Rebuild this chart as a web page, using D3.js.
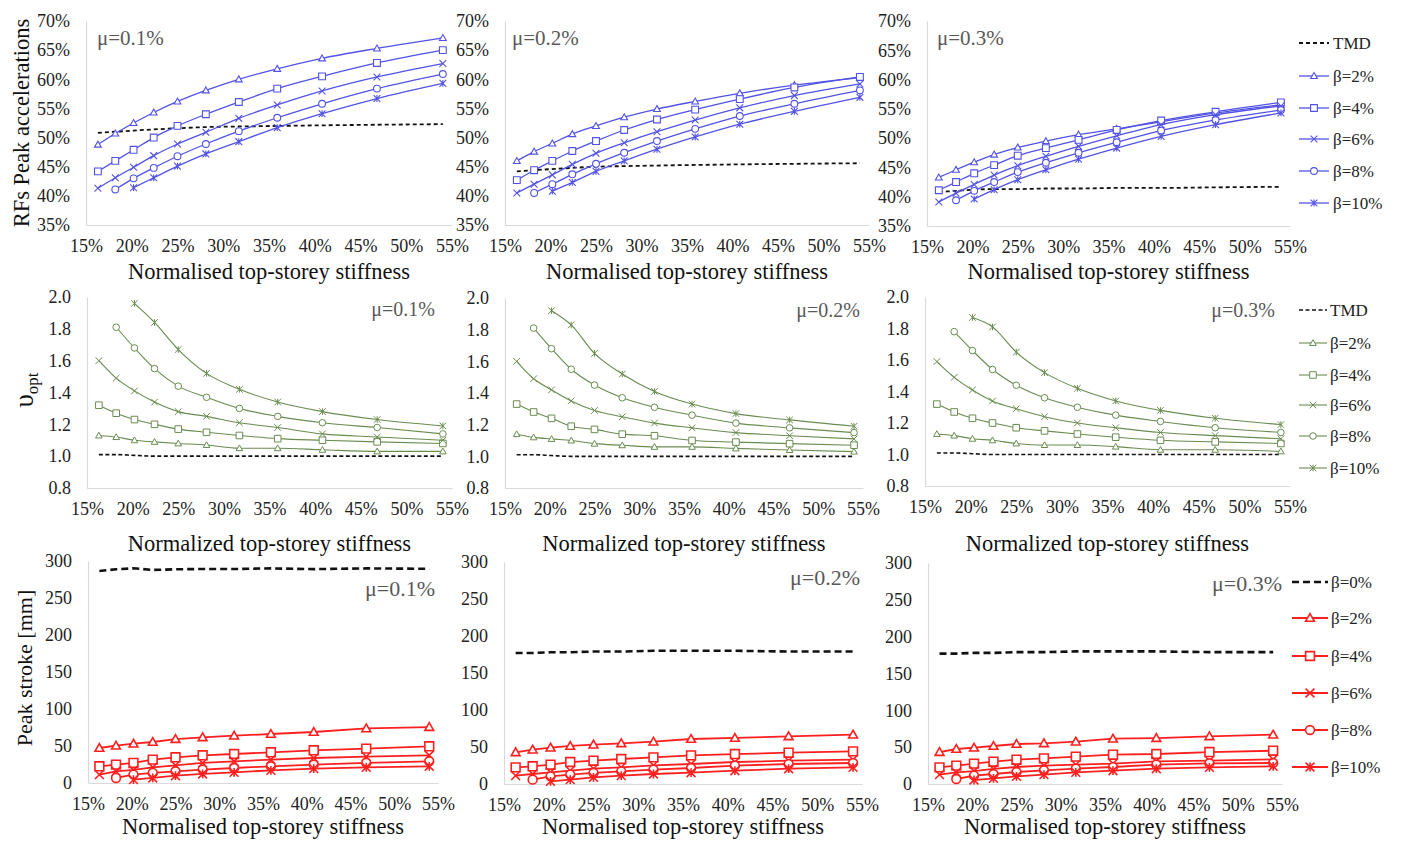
<!DOCTYPE html>
<html>
<head>
<meta charset="utf-8">
<script src="https://cdn.jsdelivr.net/npm/d3@7"></script>
<style>
  body { margin: 0; background: #fff; }
  svg { font-family: "Liberation Serif", "Times New Roman", serif; }
</style>
</head>
<body>
<div class="graph"></div>
<script>
// normalised top-storey stiffness [%] for every point
const stiffness = [16.3, 18.2, 20.2, 22.4, 25.0, 28.1, 31.7, 35.9, 40.8, 46.8, 54.0];
const xTicks = [15, 20, 25, 30, 35, 40, 45, 50, 55];
const muLabels = ['μ=0.1%', 'μ=0.2%', 'μ=0.3%'];
const betaLabels = ['β=2%', 'β=4%', 'β=6%', 'β=8%', 'β=10%'];

// row 1 : RFs peak accelerations [%]
const accTicks = [35, 40, 45, 50, 55, 60, 65, 70];
const accTmd = [
  [50.8, 51.0, 51.2, 51.4, 51.6, 51.8, 51.9, 52.0, 52.1, 52.2, 52.3],
  [44.2, 44.4, 44.6, 44.8, 45.0, 45.1, 45.2, 45.3, 45.4, 45.5, 45.6],
  [40.8, 41.0, 41.2, 41.3, 41.3, 41.4, 41.4, 41.5, 41.5, 41.6, 41.7]
];
const accMu01 = [
  [48.8, 50.7, 52.5, 54.3, 56.2, 58.1, 60.0, 61.8, 63.6, 65.3, 67.1],
  [44.2, 46.0, 47.9, 50.0, 52.0, 54.0, 56.1, 58.4, 60.5, 62.8, 65.0],
  [41.3, 43.1, 44.9, 46.9, 48.9, 50.9, 53.3, 55.6, 58.0, 60.4, 62.7],
  [null, 41.1, 43.0, 44.8, 46.8, 48.9, 51.1, 53.4, 55.8, 58.4, 60.9],
  [null, null, 41.4, 43.1, 45.1, 47.2, 49.3, 51.7, 54.1, 56.7, 59.3]
];
const accMu02 = [
  [46.0, 47.6, 49.0, 50.6, 52.0, 53.5, 54.9, 56.2, 57.6, 59.0, 60.3],
  [42.7, 44.4, 46.0, 47.7, 49.4, 51.3, 53.1, 54.8, 56.6, 58.6, 60.4],
  [40.5, 42.0, 43.6, 45.4, 47.3, 49.1, 51.0, 53.0, 55.1, 57.2, 59.2],
  [null, 40.5, 42.0, 43.7, 45.5, 47.4, 49.4, 51.5, 53.7, 55.8, 58.1],
  [null, null, 40.8, 42.3, 44.2, 46.0, 48.0, 50.1, 52.3, 54.5, 56.9]
];
const accMu03 = [
  [43.3, 44.6, 45.9, 47.2, 48.4, 49.5, 50.6, 51.6, 52.8, 54.3, 55.7],
  [41.1, 42.5, 44.0, 45.4, 47.0, 48.3, 49.7, 51.4, 53.0, 54.5, 56.1],
  [39.1, 40.6, 42.1, 43.7, 45.3, 46.9, 48.6, 50.4, 52.3, 54.0, 55.5],
  [null, 39.4, 41.0, 42.5, 44.2, 45.8, 47.5, 49.3, 51.3, 53.1, 54.8],
  [null, null, 39.6, 41.2, 42.9, 44.6, 46.4, 48.3, 50.3, 52.3, 54.3]
];

// row 2 : optimal frequency ratio
const nuTicks = [0.8, 1.0, 1.2, 1.4, 1.6, 1.8, 2.0];
const nuTmd = [
  [1.01, 1.01, 1.005, 1.0, 1.0, 1.0, 1.0, 1.0, 1.0, 1.0, 1.0],
  [1.01, 1.01, 1.005, 1.0, 1.0, 1.0, 1.0, 1.0, 1.0, 1.0, 1.0],
  [1.01, 1.01, 1.005, 1.0, 1.0, 1.0, 1.0, 1.0, 1.0, 1.0, 1.0]
];
const nuMu01 = [
  [1.13, 1.12, 1.10, 1.09, 1.08, 1.07, 1.05, 1.05, 1.04, 1.03, 1.03],
  [1.32, 1.27, 1.23, 1.20, 1.17, 1.15, 1.13, 1.11, 1.10, 1.09, 1.08],
  [1.60, 1.49, 1.41, 1.34, 1.28, 1.25, 1.21, 1.18, 1.14, 1.12, 1.10],
  [null, 1.81, 1.68, 1.55, 1.44, 1.37, 1.30, 1.25, 1.21, 1.18, 1.14],
  [null, null, 1.96, 1.84, 1.67, 1.52, 1.42, 1.34, 1.28, 1.23, 1.19]
];
const nuMu02 = [
  [1.14, 1.12, 1.11, 1.10, 1.08, 1.07, 1.06, 1.06, 1.05, 1.04, 1.03],
  [1.33, 1.28, 1.24, 1.19, 1.17, 1.14, 1.13, 1.10, 1.09, 1.08, 1.07],
  [1.60, 1.49, 1.42, 1.35, 1.29, 1.25, 1.21, 1.18, 1.15, 1.13, 1.11],
  [null, 1.81, 1.68, 1.55, 1.45, 1.37, 1.31, 1.26, 1.21, 1.18, 1.15],
  [null, null, 1.92, 1.83, 1.65, 1.52, 1.41, 1.33, 1.27, 1.23, 1.19]
];
const nuMu03 = [
  [1.13, 1.12, 1.10, 1.09, 1.07, 1.06, 1.06, 1.05, 1.03, 1.03, 1.02],
  [1.32, 1.27, 1.23, 1.20, 1.17, 1.15, 1.13, 1.11, 1.09, 1.08, 1.07],
  [1.59, 1.49, 1.41, 1.34, 1.29, 1.24, 1.20, 1.17, 1.14, 1.12, 1.10],
  [null, 1.78, 1.66, 1.54, 1.44, 1.36, 1.30, 1.25, 1.21, 1.17, 1.14],
  [null, null, 1.87, 1.81, 1.65, 1.52, 1.42, 1.34, 1.28, 1.23, 1.19]
];

// row 3 : peak stroke [mm]
const strokeTicks = [0, 50, 100, 150, 200, 250, 300];
const strokeTmd = [
  [286.5, 288.8, 290.1, 287.9, 288.8, 289.2, 289.2, 290.0, 289.0, 290.0, 289.5],
  [177, 177, 178, 178, 179, 179, 180, 180, 180, 179, 179],
  [177, 177, 178, 178, 179, 179, 180, 180, 180, 179, 179]
];
const strokeMu01 = [
  [47.3, 50.4, 53.1, 55.4, 59.4, 61.7, 63.9, 66.2, 68.9, 73.8, 75.6],
  [22.6, 24.8, 27.1, 31.6, 34.7, 37.4, 39.2, 41.5, 44.2, 46.4, 49.6],
  [11.3, 15.8, 17.6, 21.2, 23.9, 27.1, 29.3, 31.6, 33.8, 35.6, 37.4],
  [null, 6.8, 11.3, 13.6, 15.8, 18.1, 20.3, 22.6, 24.8, 27.1, 29.3],
  [null, null, 4.6, 6.8, 9.9, 12.2, 14.4, 17.1, 19.4, 21.2, 22.6]
];
const strokeMu02 = [
  [42.8, 46.4, 49.1, 51.4, 53.2, 55.0, 57.2, 60.8, 62.2, 64.4, 66.7],
  [22.5, 23.9, 26.1, 29.7, 31.5, 33.8, 36.0, 38.7, 40.5, 42.3, 44.1],
  [11.3, 13.5, 15.8, 18.0, 20.7, 22.5, 25.2, 27.0, 29.7, 31.5, 32.9],
  [null, 5.9, 10.4, 12.6, 14.9, 17.1, 19.4, 21.6, 24.8, 27.0, 28.4],
  [null, null, 3.6, 5.9, 9.0, 11.3, 13.5, 15.3, 18.0, 20.7, 22.5]
];
const strokeMu03 = [
  [43.4, 47.5, 49.3, 51.6, 54.3, 55.2, 57.5, 61.5, 62.4, 64.7, 67.0],
  [22.6, 24.9, 27.6, 30.3, 33.0, 34.8, 37.1, 39.8, 40.7, 43.4, 45.2],
  [12.7, 15.8, 17.6, 20.4, 23.1, 24.9, 26.2, 27.6, 30.8, 31.7, 33.5],
  [null, 6.8, 11.3, 13.6, 16.3, 18.6, 20.8, 23.1, 26.2, 28.1, 28.5],
  [null, null, 5.4, 7.7, 10.4, 12.7, 15.8, 18.1, 20.8, 22.6, 24.0]
];

const W = 1406, H = 841;
const svg = d3.select('.graph').append('svg').attr('width', W).attr('height', H);

const symbols = ['triangle', 'square', 'cross', 'circle', 'star'];

const drawMarker = (g, type, cx, cy, s, color, sw) => {
  let d;
  if (type === 'triangle') d = `M${cx},${cy - s}L${cx + s},${cy + s * 0.75}L${cx - s},${cy + s * 0.75}Z`;
  else if (type === 'square') d = `M${cx - s},${cy - s}h${2 * s}v${2 * s}h${-2 * s}Z`;
  else if (type === 'cross') d = `M${cx - s},${cy - s}L${cx + s},${cy + s}M${cx - s},${cy + s}L${cx + s},${cy - s}`;
  else if (type === 'star') d = `M${cx - s},${cy - s}L${cx + s},${cy + s}M${cx - s},${cy + s}L${cx + s},${cy - s}M${cx},${cy - s}V${cy + s}`;
  if (type === 'circle') {
    g.append('circle').attr('cx', cx).attr('cy', cy).attr('r', s)
      .attr('fill', '#fff').attr('stroke', color).attr('stroke-width', sw);
  } else {
    g.append('path').attr('d', d)
      .attr('fill', (type === 'triangle' || type === 'square') ? '#fff' : 'none')
      .attr('stroke', color).attr('stroke-width', sw);
  }
};

const rows = [
  {
    data: [accMu01, accMu02, accMu03], tmd: accTmd,
    yDomain: [35, 70], yTicks: accTicks, yFmt: d => d + '%',
    color: '#5252e6', lw: 1.3, ms: 3.4, msw: 1.1, curve: d3.curveMonotoneX,
    dash: { w: 1.8, a: '4,3' },
    boxes: [[86, 452, 21, 225], [505, 869, 21, 225], [927, 1290, 21, 226]],
    xTitle: 'Normalised top-storey stiffness', xTitleY: 279,
    muPos: [[97, 45, 'start'], [512, 45, 'start'], [937, 45, 'start']], muSize: 21,
    legend: { x0: 1299, x1: 1329, tx: 1333, ys: [43, 76, 108, 139, 171, 203], first: 'TMD' }
  },
  {
    data: [nuMu01, nuMu02, nuMu03], tmd: nuTmd,
    yDomain: [0.8, 2.0], yTicks: nuTicks, yFmt: d3.format('.1f'),
    color: '#6a8c50', lw: 1.1, ms: 3.3, msw: 1, curve: d3.curveMonotoneX,
    dash: { w: 1.6, a: '4,2.5' },
    boxes: [[87, 452, 297, 488], [505, 863, 298, 488], [925, 1290, 297, 486]],
    xTitle: 'Normalized top-storey stiffness', xTitleY: 551,
    muPos: [[435, 316, 'end'], [860, 317, 'end'], [1275, 317, 'end']], muSize: 20,
    legend: { x0: 1299, x1: 1327, tx: 1330, ys: [310, 343, 375, 405, 436, 468], first: 'TMD' }
  },
  {
    data: [strokeMu01, strokeMu02, strokeMu03], tmd: strokeTmd,
    yDomain: [0, 300], yTicks: strokeTicks, yFmt: d => d,
    color: '#ff1f1f', lw: 1.8, ms: 4.4, msw: 1.6, curve: d3.curveLinear,
    dash: { w: 2.6, a: '7,4' },
    boxes: [[88, 438, 561, 783], [504, 862, 562, 784], [928, 1282, 563, 784]],
    xTitle: 'Normalised top-storey stiffness', xTitleY: 834,
    muPos: [[435, 596, 'end'], [860, 585, 'end'], [1282, 591, 'end']], muSize: 22,
    legend: { x0: 1292, x1: 1328, tx: 1331, ys: [582, 618, 656, 693, 730, 767], first: 'β=0%' }
  }
];

rows.forEach((row, ri) => {
  row.boxes.forEach((box, pi) => {
    const [l, r, t, b] = box;
    const x = d3.scaleLinear().domain([15, 55]).range([l, r]);
    const y = d3.scaleLinear().domain(row.yDomain).range([b, t]);
    const g = svg.append('g');

    const xAxis = d3.axisBottom(x).tickValues(xTicks).tickFormat(d => d + '%').tickSize(0).tickPadding(14);
    g.append('g').attr('transform', `translate(0,${b})`).call(xAxis);
    const yAxis = d3.axisLeft(y).tickValues(row.yTicks).tickFormat(row.yFmt).tickSize(0).tickPadding(16);
    g.append('g').attr('transform', `translate(${l},0)`).call(yAxis);
    g.selectAll('.domain').attr('stroke', '#d9d9d9').attr('stroke-width', 1.2);
    g.selectAll('.tick text').attr('font-size', 18).attr('fill', '#222')
      .style('font-family', '"Liberation Serif", serif');

    // x title
    g.append('text').attr('x', (l + r) / 2).attr('y', row.xTitleY)
      .attr('text-anchor', 'middle').attr('font-size', 22.5).attr('fill', '#111')
      .text(row.xTitle);

    // mu label
    const mp = row.muPos[pi];
    g.append('text').attr('x', mp[0]).attr('y', mp[1]).attr('text-anchor', mp[2])
      .attr('font-size', row.muSize).attr('fill', '#595959').text(muLabels[pi]);

    const line = d3.line().defined(d => d[1] != null)
      .x(d => x(d[0])).y(d => y(d[1])).curve(row.curve);

    // reference (TMD / beta=0) dashed line
    g.append('path').datum(stiffness.map((s, i) => [s, row.tmd[pi][i]]))
      .attr('d', line).attr('fill', 'none').attr('stroke', '#111')
      .attr('stroke-width', row.dash.w).attr('stroke-dasharray', row.dash.a);

    row.data[pi].forEach((series, si) => {
      const pts = stiffness.map((s, i) => [s, series[i]]);
      g.append('path').datum(pts).attr('d', line).attr('fill', 'none')
        .attr('stroke', row.color).attr('stroke-width', row.lw);
      const mg = g.append('g');
      pts.filter(p => p[1] != null).forEach(p => {
        drawMarker(mg, symbols[si], x(p[0]), y(p[1]), row.ms, row.color, row.msw);
      });
    });
  });

  // legend
  const lg = svg.append('g');
  const L = row.legend;
  lg.append('line').attr('x1', L.x0).attr('x2', L.x1).attr('y1', L.ys[0]).attr('y2', L.ys[0])
    .attr('stroke', '#111').attr('stroke-width', row.dash.w).attr('stroke-dasharray', row.dash.a);
  lg.append('text').attr('x', L.tx).attr('y', L.ys[0]).attr('dy', '0.35em')
    .attr('font-size', 17).attr('fill', '#222').text(L.first);
  betaLabels.forEach((lab, i) => {
    const yy = L.ys[i + 1];
    lg.append('line').attr('x1', L.x0).attr('x2', L.x1).attr('y1', yy).attr('y2', yy)
      .attr('stroke', row.color).attr('stroke-width', row.lw);
    drawMarker(lg, symbols[i], (L.x0 + L.x1) / 2, yy, row.ms, row.color, row.msw);
    lg.append('text').attr('x', L.tx).attr('y', yy).attr('dy', '0.35em')
      .attr('font-size', 17).attr('fill', '#222').text(lab);
  });
});

// y titles
svg.append('text').attr('transform', 'translate(29,123) rotate(-90)')
  .attr('text-anchor', 'middle').attr('font-size', 22.5).attr('fill', '#111')
  .text('RFs Peak accelerations');

const nuTitle = svg.append('text').attr('transform', 'translate(33,390) rotate(-90)')
  .attr('text-anchor', 'middle').attr('fill', '#111');
nuTitle.append('tspan').attr('font-size', 27).text('υ');
nuTitle.append('tspan').attr('font-size', 17).attr('dy', 5).text('opt');

svg.append('text').attr('transform', 'translate(32,668) rotate(-90)')
  .attr('text-anchor', 'middle').attr('font-size', 22).attr('fill', '#111')
  .text('Peak stroke [mm]');
</script>
</body>
</html>
